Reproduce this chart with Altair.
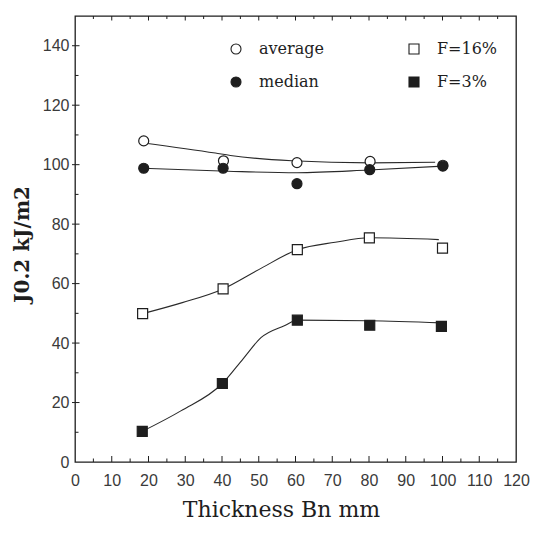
import altair as alt
import pandas as pd

# ---- measured points (thickness Bn in mm, J0.2 in kJ/m2) ----
thick_avg = [18.7, 40.4, 60.4, 80.3, 100.1]
j_avg = [108.0, 101.3, 100.7, 101.1, 99.8]
thick_med = [18.7, 40.3, 60.4, 80.2, 100.1]
j_med = [98.8, 98.8, 93.6, 98.3, 99.5]
thick_f16 = [18.4, 40.3, 60.5, 80.1, 100.0]
j_f16 = [49.9, 58.2, 71.4, 75.4, 71.9]
thick_f3 = [18.3, 40.1, 60.5, 80.2, 99.7]
j_f3 = [10.3, 26.4, 47.7, 46.0, 45.6]

# ---- hand-drawn fit curves ----
curve_avg_x = [18.7, 38.2, 42.3, 59.0, 80.4, 98.0]
curve_avg_y = [107.3, 103.9, 103.1, 101.3, 100.6, 100.8]
curve_med_x = [18.7, 41.6, 60.4, 80.0, 100.1]
curve_med_y = [98.8, 97.8, 97.3, 98.2, 99.5]
curve_f16_x = [18.4, 29.2, 40.3, 50.0, 60.5, 70.8, 80.1, 99.0]
curve_f16_y = [49.9, 53.6, 58.2, 64.7, 71.4, 73.9, 75.4, 74.8]
curve_f3_x = [18.3, 28.8, 40.1, 45.8, 50.6, 57.1, 60.5, 80.0, 99.7]
curve_f3_y = [10.3, 17.2, 26.4, 34.8, 41.8, 45.9, 47.7, 47.5, 46.8]

# legend order (Vega fills the 2-column legend column by column)
series_order = ["average", "median", "F=16%", "F=3%"]
x_labels = list(range(0, 121, 10))
y_labels = list(range(0, 141, 20))
x_minor = list(range(5, 120, 10))
y_minor = list(range(10, 150, 20))
top_ticks_major = list(range(10, 120, 10))
top_ticks_minor = list(range(5, 120, 10))

pts = pd.concat([
    pd.DataFrame({"x": thick_avg, "y": j_avg, "series": "average"}),
    pd.DataFrame({"x": thick_f16, "y": j_f16, "series": "F=16%"}),
    pd.DataFrame({"x": thick_med, "y": j_med, "series": "median"}),
    pd.DataFrame({"x": thick_f3, "y": j_f3, "series": "F=3%"}),
], ignore_index=True)

curves = pd.concat([
    pd.DataFrame({"x": curve_avg_x, "y": curve_avg_y, "curve": "average"}),
    pd.DataFrame({"x": curve_med_x, "y": curve_med_y, "curve": "median"}),
    pd.DataFrame({"x": curve_f16_x, "y": curve_f16_y, "curve": "F=16%"}),
    pd.DataFrame({"x": curve_f3_x, "y": curve_f3_y, "curve": "F=3%"}),
], ignore_index=True)

W, H = 441, 446
INK = "#1e1e1e"

xs = alt.Scale(domain=[0, 120], nice=False, zero=False)
ys = alt.Scale(domain=[0, 150], nice=False, zero=False)

xaxis = alt.Axis(values=x_labels, ticks=False, domain=False, grid=False,
                 labelFont="Liberation Sans", labelFontSize=16, labelColor="#3a3a3a",
                 labelPadding=10, labelFlush=False, labelOverlap=False, format="d",
                 titleFont="DejaVu Serif", titleFontSize=22, titleFontWeight="normal",
                 titleColor=INK, titleX=206, titleY=54, titleBaseline="alphabetic")
yaxis = alt.Axis(values=y_labels, ticks=False, domain=False, grid=False,
                 labelFont="Liberation Sans", labelFontSize=16, labelColor="#3a3a3a",
                 labelPadding=6, labelFlush=False, labelOverlap=False, format="d",
                 titleFont="DejaVu Serif", titleFontSize=20, titleFontWeight="bold",
                 titleColor=INK, titleX=-53, titleY=228, titleAngle=270,
                 titleBaseline="middle", titleAlign="center")

X = alt.X("x:Q", scale=xs, axis=xaxis, title="Thickness Bn mm")
Y = alt.Y("y:Q", scale=ys, axis=yaxis, title="J0.2 kJ/m2")

legend = alt.Legend(title=None, orient="none", legendX=153, legendY=25, columns=2,
                    columnPadding=82, rowPadding=17, labelFont="DejaVu Serif",
                    labelFontSize=16, labelColor=INK, labelOffset=15, symbolSize=100,
                    symbolStrokeWidth=1.1, padding=0)

lines = alt.Chart(curves).mark_line(interpolate="monotone", stroke="#2a2a2a",
                                    strokeWidth=1.1).encode(x=X, y=Y, detail="curve:N")

points = alt.Chart(pts).mark_point(filled=True, size=100, strokeWidth=1.2,
                                   opacity=1).encode(
    x=X, y=Y,
    shape=alt.Shape("series:N", scale=alt.Scale(domain=series_order,
                    range=["circle", "circle", "square", "square"]), legend=legend),
    fill=alt.Fill("series:N", scale=alt.Scale(domain=series_order,
                  range=["white", INK, "white", INK]), legend=legend),
    stroke=alt.Stroke("series:N", scale=alt.Scale(domain=series_order,
                      range=[INK, INK, INK, INK]), legend=legend),
)

def vrules(vals, y0, y1):
    return alt.Chart(pd.DataFrame({"x": vals})).mark_rule(stroke=INK, strokeWidth=1).encode(
        x=X, y=alt.value(y0), y2=alt.value(y1))

def hrules(vals, x0, x1):
    return alt.Chart(pd.DataFrame({"y": vals})).mark_rule(stroke=INK, strokeWidth=1).encode(
        y=Y, x=alt.value(x0), x2=alt.value(x1))

ticks = [
    vrules(x_labels[1:-1], H, H - 6),
    vrules(x_minor, H, H - 3.5),
    vrules(top_ticks_major, 0, 4.5),
    vrules(top_ticks_minor, 0, 3),
    hrules(y_labels[1:], -3, 4.5),
    hrules(y_minor, 0, 3.5),
]

chart = alt.layer(lines, *ticks, points).properties(
    width=W, height=H,
    autosize=alt.AutoSizeParams(type="none"),
    padding={"left": 67, "top": 8, "right": 15, "bottom": 62},
    background="white",
).configure_view(stroke=INK, strokeWidth=1.3)

chart.save("out.html", embed_options={"renderer": "svg", "actions": False})
